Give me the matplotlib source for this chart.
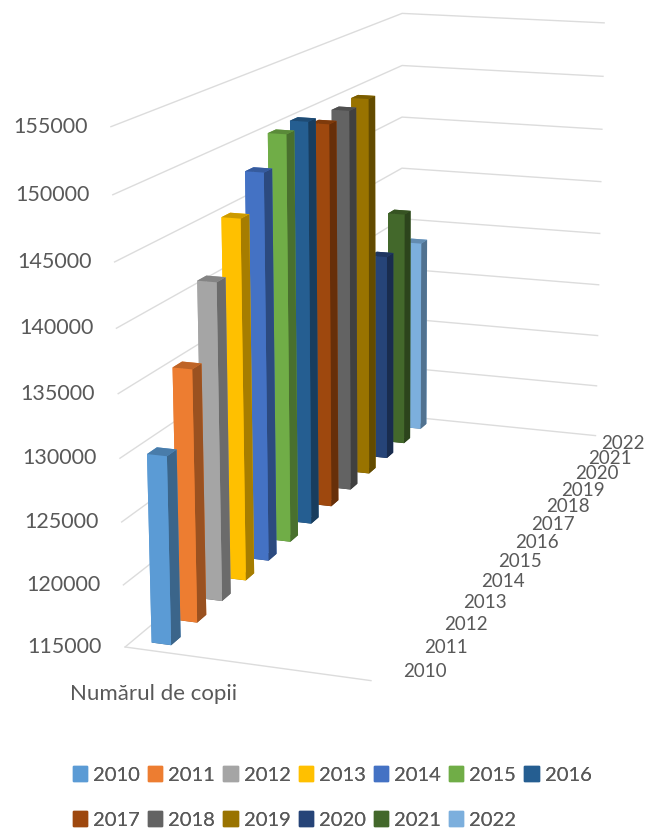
#!/usr/bin/env python3
# -*- coding: utf-8 -*-
"""
    Numarul de copii 2010-2022, Excel style 3D columns
"""
import matplotlib
matplotlib.use("Agg")
import matplotlib.pyplot as plt
from matplotlib.colors import to_rgb
from matplotlib.patches import Patch
from mpl_toolkits.mplot3d import proj3d
import numpy as np

years = ["2010", "2011", "2012", "2013", "2014", "2015", "2016",
         "2017", "2018", "2019", "2020", "2021", "2022"]
values = [130040, 135450, 141100, 145100, 147850, 150100, 150300,
          149250, 149600, 149850, 134360, 137350, 133500]
colors = ["#5B9BD5", "#ED7D31", "#A5A5A5", "#FFC000", "#4472C4", "#70AD47",
          "#255E91", "#9E480E", "#636363", "#997300", "#264478", "#43682B",
          "#7CAFDD"]
z_ticks = [115000, 120000, 125000, 130000, 135000, 140000, 145000, 150000, 155000]
category = "Numărul de copii"

TEXT = "#595959"
GRID = "#DCDCDC"
plt.rcParams['font.family'] = ['Lato', 'DejaVu Sans']

fig = plt.figure(figsize=(6.51, 8.32), dpi=100)
ax = fig.add_axes([0.0834, 0.1244, 1, 1], projection='3d', computed_zorder=False)
ax.set_axis_off()
ax.patch.set_alpha(0)

n = len(years)
ax.set_xlim(0, 1, view_margin=0)
ax.set_ylim(0, n, view_margin=0)
ax.set_zlim(z_ticks[0], z_ticks[-1], view_margin=0)
ax.set_box_aspect((256, 832, 517), zoom=1.386)
ax.view_init(elev=14.2, azim=-70.7)
ax.set_proj_type('persp', focal_length=0.72)

# walls: left side and back, plus the floor front edge
for z in z_ticks:
    ax.plot([0, 0, 1], [0, n, n], [z, z, z], color=GRID, lw=1, zorder=1, clip_on=False)
ax.plot([0, 1], [0, 0], [z_ticks[0]] * 2, color=GRID, lw=1, zorder=1, clip_on=False)

# columns
xpos = np.full(n, 0.077)
ypos = np.arange(n) + 0.30
face_colors = []
for c in colors:
    rgb = np.array(to_rgb(c))
    # -z, +z, -y, +y, -x, +x
    face_colors += [rgb * 0.6, rgb * 0.8, rgb, rgb, rgb, rgb * 0.65]
bars = ax.bar3d(xpos, ypos, np.full(n, z_ticks[0]), 0.082, 0.36,
                np.array(values) - z_ticks[0], color=face_colors, shade=False, zorder=2)
bars.set_clip_on(False)


def label(x, y, z, s, dx=0, dy=0, **kw):
    # place text at the projected point, so the offset stays in pixels
    px, py, _ = proj3d.proj_transform(x, y, z, ax.get_proj())
    ax.annotate(s, (px, py), xytext=(dx * 0.72, dy * 0.72), textcoords='offset points',
                va='center', color=TEXT, annotation_clip=False, **kw)


# tick labels
for z in z_ticks:
    label(0, 0, z, str(z), dx=-23, ha='right', fontsize=15.5)
for i, y in enumerate(years):
    label(1.17, i + 0.5, z_ticks[0], y, dy=3, ha='center', fontsize=13.5)
fig.text(154 / 651, 1 - 694 / 832, category, ha='center', va='center', fontsize=16, color=TEXT)

# legend, two rows
handles = [Patch(color=c) for c in colors]
for a, b, y in [(0, 7, 775), (7, 13, 820)]:
    leg = fig.legend(handles[a:b], years[a:b], ncol=b - a, frameon=False,
                     loc='center left', bbox_to_anchor=(73 / 651, 1 - y / 832),
                     fontsize=14.5, labelcolor=TEXT, handlelength=0.7, handleheight=0.7,
                     handletextpad=0.3, columnspacing=0.41, borderpad=0, borderaxespad=0)
    fig.add_artist(leg)

fig.savefig("out.png", dpi=100)
